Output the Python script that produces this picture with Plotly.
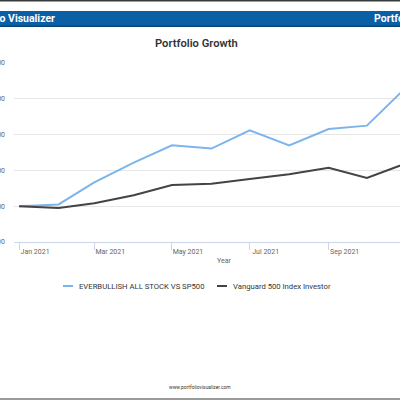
import plotly.graph_objects as go

# ---- data ----
dates = ["2021-01-01", "2021-02-01", "2021-03-01", "2021-04-01", "2021-05-01", "2021-06-01",
         "2021-07-01", "2021-08-01", "2021-09-01", "2021-10-01", "2021-11-01"]
everbullish = [10000, 10100, 11330, 12430, 13400, 13220, 14240, 13390, 14310, 14500, 16650]
vanguard = [10000, 9898, 10171, 10617, 11178, 11255, 11517, 11791, 12150, 11583, 12395]
series_names = ["EVERBULLISH ALL STOCK VS SP500", "Vanguard 500 Index Investor"]
series_colors = ["#7cb5ec", "#434348"]

W, H = 400, 400
L, R, T, B = 14, 0, 63, 158
PW, PH = W - L - R, H - T - B


def px(x):
    return (x - L) / PW


def py(y):
    return (H - B - y) / PH


fig = go.Figure()
for name, vals, col in zip(series_names, [everbullish, vanguard], series_colors):
    fig.add_trace(go.Scatter(x=dates, y=vals, mode="lines", name=name,
                             line=dict(color=col, width=2), showlegend=False))

font = "Roboto, 'Noto Sans', sans-serif"

shapes = [
    # top frame line
    dict(type="rect", xref="paper", yref="paper", x0=px(-5), x1=px(405), y0=py(1.5), y1=py(-2),
         fillcolor="#3a3a3a", line=dict(width=0), layer="above"),
    # banner
    dict(type="rect", xref="paper", yref="paper", x0=px(-5), x1=px(405), y0=py(26), y1=py(11),
         fillcolor="#0b5fa4", line=dict(width=0), layer="above"),
    dict(type="rect", xref="paper", yref="paper", x0=px(-5), x1=px(405), y0=py(27), y1=py(25.5),
         fillcolor="#08467a", line=dict(width=0), layer="above"),
    # bottom frame line
    dict(type="rect", xref="paper", yref="paper", x0=px(-5), x1=px(405), y0=py(402), y1=py(398),
         fillcolor="#9a9a9a", line=dict(width=0), layer="above"),
]

annotations = [
    dict(text="<b>Portfolio Visualizer</b>", xref="paper", yref="paper", x=px(57), y=py(18.5),
         xanchor="right", yanchor="middle", showarrow=False,
         font=dict(family=font, size=10.5, color="white")),
    dict(text="<b>Portfolio Visualizer</b>", xref="paper", yref="paper", x=px(372), y=py(18.5),
         xanchor="left", yanchor="middle", showarrow=False,
         font=dict(family=font, size=10.5, color="white")),
    dict(text="Portfolio Growth", xref="paper", yref="paper", x=px(196), y=py(44),
         xanchor="center", yanchor="middle", showarrow=False,
         font=dict(family=font, size=11.2, color="#333333", weight=600)),
    dict(text="Year", xref="paper", yref="paper", x=px(224), y=py(261),
         xanchor="center", yanchor="middle", showarrow=False,
         font=dict(family=font, size=7, color="#666666")),
    dict(text="www.portfoliovisualizer.com", xref="paper", yref="paper", x=px(200), y=py(387),
         xanchor="center", yanchor="middle", showarrow=False,
         font=dict(family=font, size=4.9, color="#333333")),
]

# manual legend
leg_sym_x = [63, 217]
for name, col, sx in zip(series_names, series_colors, leg_sym_x):
    shapes.append(dict(type="line", xref="paper", yref="paper", x0=px(sx), x1=px(sx + 10),
                       y0=py(286), y1=py(286), line=dict(color=col, width=2)))
    annotations.append(dict(text=name, xref="paper", yref="paper", x=px(sx + 13.5), y=py(286),
                            xanchor="left", yanchor="middle", showarrow=False,
                            font=dict(family=font, size=7.7, color="#333333")))

fig.update_layout(
    width=W, height=H,
    margin=dict(l=L, r=R, t=T, b=B, pad=0, autoexpand=False),
    paper_bgcolor="white", plot_bgcolor="white",
    font=dict(family=font),
    shapes=shapes, annotations=annotations,
    showlegend=False,
    xaxis=dict(type="date", range=["2020-12-28", "2021-10-27"], automargin=False,
               tick0="2021-01-01", dtick="M2", tickformat="%b %Y",
               showgrid=False, showline=True, linecolor="#ccd6eb", linewidth=1,
               ticks="outside", ticklen=7, tickcolor="#ccd6eb", tickwidth=1,
               ticklabelshift=16, ticklabelstandoff=-4,
               tickfont=dict(family=font, size=7, color="#666666"), zeroline=False),
    yaxis=dict(range=[8000, 18000], dtick=2000, tick0=8000, tickprefix="$", automargin=False,
               tickformat=",.0f", showgrid=True, gridcolor="#e6e6e6", gridwidth=1,
               showline=False, zeroline=False, ticks="", ticklabelstandoff=8,
               tickfont=dict(family=font, size=7, color="#666666")),
)

fig.write_html("out.html", config={"displayModeBar": False},
               post_script="document.body.style.margin='0';")
